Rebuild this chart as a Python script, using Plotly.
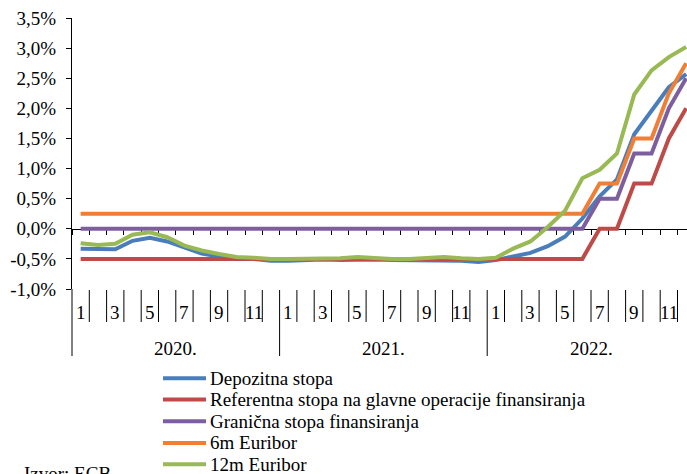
import plotly.graph_objects as go

# Monthly series, Jan 2020 - Dec 2022 (values in %)
years = ["2020.", "2021.", "2022."]
months = list(range(1, 13))

depozitna = [
    -0.33, -0.34, -0.34, -0.20, -0.15, -0.21, -0.31, -0.41, -0.46, -0.49, -0.50, -0.53,
    -0.53, -0.52, -0.51, -0.52, -0.51, -0.51, -0.52, -0.52, -0.52, -0.52, -0.53, -0.55,
    -0.52, -0.46, -0.40, -0.29, -0.13, 0.17, 0.54, 0.82, 1.57, 1.96, 2.35, 2.57,
]
referentna = [
    -0.50, -0.50, -0.50, -0.50, -0.50, -0.50, -0.50, -0.50, -0.50, -0.50, -0.50, -0.50,
    -0.50, -0.50, -0.50, -0.50, -0.50, -0.50, -0.50, -0.50, -0.50, -0.50, -0.50, -0.50,
    -0.50, -0.50, -0.50, -0.50, -0.50, -0.50, 0.00, 0.00, 0.75, 0.75, 1.50, 2.00,
]
granicna = [
    0.00, 0.00, 0.00, 0.00, 0.00, 0.00, 0.00, 0.00, 0.00, 0.00, 0.00, 0.00,
    0.00, 0.00, 0.00, 0.00, 0.00, 0.00, 0.00, 0.00, 0.00, 0.00, 0.00, 0.00,
    0.00, 0.00, 0.00, 0.00, 0.00, 0.00, 0.50, 0.50, 1.25, 1.25, 2.00, 2.50,
]
euribor_6m = [
    0.25, 0.25, 0.25, 0.25, 0.25, 0.25, 0.25, 0.25, 0.25, 0.25, 0.25, 0.25,
    0.25, 0.25, 0.25, 0.25, 0.25, 0.25, 0.25, 0.25, 0.25, 0.25, 0.25, 0.25,
    0.25, 0.25, 0.25, 0.25, 0.25, 0.25, 0.75, 0.75, 1.50, 1.50, 2.25, 2.75,
]
euribor_12m = [
    -0.24, -0.27, -0.25, -0.10, -0.06, -0.14, -0.28, -0.36, -0.42, -0.47, -0.48, -0.50,
    -0.50, -0.50, -0.49, -0.49, -0.47, -0.49, -0.50, -0.50, -0.49, -0.47, -0.49, -0.50,
    -0.48, -0.33, -0.21, 0.03, 0.30, 0.84, 0.98, 1.25, 2.23, 2.63, 2.85, 3.02,
]

series_names = [
    "Depozitna stopa",
    "Referentna stopa na glavne operacije finansiranja",
    "Granična stopa finansiranja",
    "6m Euribor",
    "12m Euribor",
]
series_values = [depozitna, referentna, granicna, euribor_6m, euribor_12m]
series_colors = ["#4A7EBB", "#BE4B48", "#7D5FA0", "#F07E34", "#98B954"]

y_tick_vals = [-1.0, -0.5, 0.0, 0.5, 1.0, 1.5, 2.0, 2.5, 3.0, 3.5]
y_tick_text = ["-1,0%", "-0,5%", "0,0%", "0,5%", "1,0%", "1,5%", "2,0%", "2,5%", "3,0%", "3,5%"]

source_text = "Izvor: ECB"

FONT = "Liberation Serif"
W, H = 687, 474
ML, MR, MT, MB = 72, 0, 18, 185
PLOT_W = W - ML - MR
PLOT_H = H - MT - MB
Y_MIN, Y_MAX = -1.0, 3.5
CAT_W = 17.3  # pixel width of one month slot

n = len(depozitna)
x_idx = list(range(n))


def paper_x(px):
    return (px - ML) / PLOT_W


def paper_y(py):
    return (H - MB - py) / PLOT_H


fig = go.Figure()
for name, vals, col in zip(series_names, series_values, series_colors):
    fig.add_trace(go.Scatter(
        x=x_idx, y=vals, mode="lines", name=name,
        line=dict(color=col, width=4),
        showlegend=False, hoverinfo="skip",
    ))

x_end = (PLOT_W / CAT_W) - 0.5
boundaries = [k - 0.5 for k in range(n + 1)]

shapes = []
# separators in the month-label band
for k in range(1, n + 1):
    b = k - 0.5
    long_line = (k % 12 == 0)
    shapes.append(dict(
        type="line", xref="x", yref="paper", ysizemode="pixel", yanchor=0,
        x0=b, x1=b, y0=-1, y1=-67 if long_line else -33,
        line=dict(color="black", width=1),
    ))
# extension of the value axis through the label band
shapes.append(dict(
    type="line", xref="paper", yref="paper", ysizemode="pixel", yanchor=0,
    x0=0, x1=0, y0=0, y1=-67, line=dict(color="black", width=1),
))

annotations = []
for i in x_idx:
    m = months[i % 12]
    if m % 2 == 1:
        annotations.append(dict(
            x=i, y=0, xref="x", yref="paper", yshift=-23,
            text=str(m), showarrow=False, xanchor="center", yanchor="middle",
            font=dict(family=FONT, size=19, color="black"),
        ))
for j, yr in enumerate(years):
    annotations.append(dict(
        x=j * 12 + 5.5, y=0, xref="x", yref="paper", yshift=-59,
        text=yr, showarrow=False, xanchor="center", yanchor="middle",
        font=dict(family=FONT, size=19, color="black"),
    ))

# legend drawn below the chart
legend_rows = [378.3, 399.5, 421.2, 443.0, 464.3]
for name, col, ry in zip(series_names, series_colors, legend_rows):
    shapes.append(dict(
        type="line", xref="paper", yref="paper",
        x0=paper_x(163), x1=paper_x(206), y0=paper_y(ry), y1=paper_y(ry),
        line=dict(color=col, width=4),
    ))
    annotations.append(dict(
        x=paper_x(208), y=paper_y(ry), xref="paper", yref="paper",
        text=name, showarrow=False, xanchor="left", yanchor="middle",
        font=dict(family=FONT, size=19, color="black"),
    ))

annotations.append(dict(
    x=paper_x(22), y=paper_y(473), xref="paper", yref="paper",
    text=source_text, showarrow=False, xanchor="left", yanchor="middle",
    font=dict(family=FONT, size=19, color="black"),
))

fig.update_layout(
    width=W, height=H,
    margin=dict(l=ML, r=MR, t=MT, b=MB, pad=0),
    paper_bgcolor="white", plot_bgcolor="white",
    font=dict(family=FONT, size=19, color="black"),
    showlegend=False,
    shapes=shapes,
    annotations=annotations,
    xaxis=dict(
        range=[-0.5, x_end],
        anchor="free",
        position=(0 - Y_MIN) / (Y_MAX - Y_MIN),
        showline=True, linecolor="black", linewidth=1,
        ticks="outside", ticklen=5, tickcolor="black", tickwidth=1,
        tickvals=boundaries, showticklabels=False,
        showgrid=False, zeroline=False, layer="below traces",
    ),
    yaxis=dict(
        range=[Y_MIN, Y_MAX],
        tickvals=y_tick_vals, ticktext=y_tick_text,
        showline=True, linecolor="black", linewidth=1,
        ticks="outside", ticklen=5, tickcolor="black", tickwidth=1,
        ticklabelstandoff=6,
        tickfont=dict(family=FONT, size=19, color="black"),
        showgrid=False, zeroline=False,
    ),
)

fig.write_html("out.html")
